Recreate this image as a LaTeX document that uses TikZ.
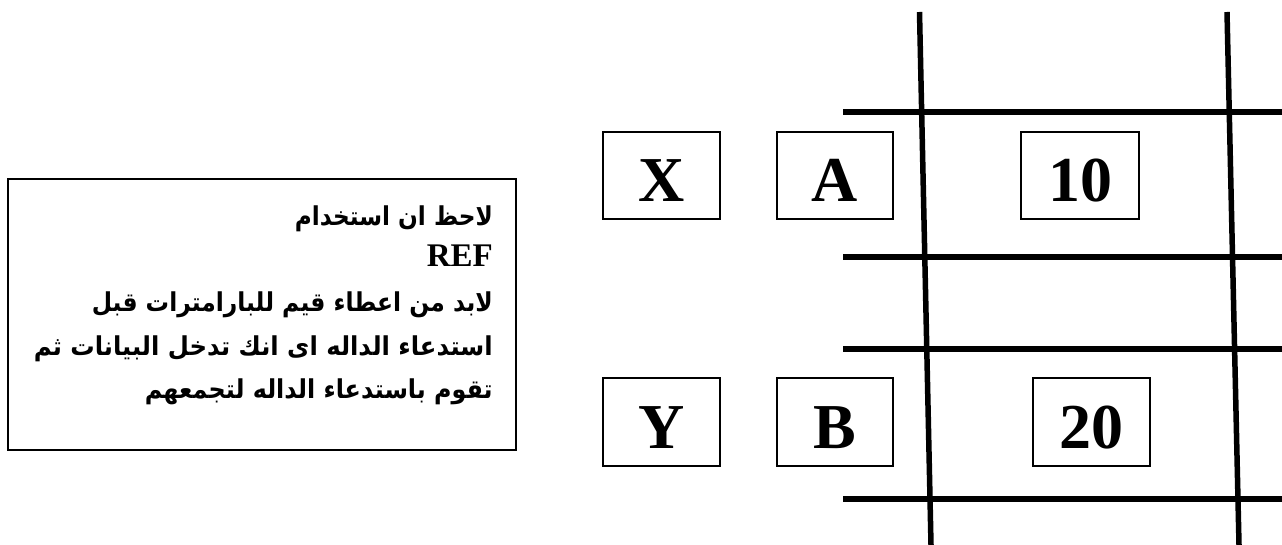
\documentclass[tikz,border=0pt]{standalone}
\usepackage{fontspec}
\usepackage{graphicx}
\setmainfont{Liberation Serif}
\newfontfamily\arabicfont[Script=Arabic]{DejaVu Sans}
\TeXXeTstate=1
\begin{document}
\begin{tikzpicture}[x=1pt,y=-1pt,
  gridline/.style={line width=5.5pt,black},
  cellbox/.style={draw,line width=1.3pt,inner sep=0pt},
  bigtxt/.style={font=\fontsize{64}{64}\selectfont\bfseries,inner sep=0pt,anchor=base},
  artxt/.style={font=\arabicfont\bfseries\fontsize{26}{26}\selectfont,inner sep=0pt,anchor=base east},
  reftxt/.style={font=\fontsize{33}{33}\selectfont\bfseries,inner sep=0pt,anchor=base east}]
\useasboundingbox (0,0) rectangle (1282,545);
% note box
\draw[line width=1.5pt] (8,179) rectangle (516,450);
\node[artxt] (l1) at (493,226) {\resizebox{198pt}{\height}{\beginR لاحظ ان استخدام\endR}};
\node[reftxt] (l2) at (493,267) {REF};
\node[artxt] (l3) at (493,311) {\resizebox{401pt}{\height}{\beginR لابد من اعطاء قيم للبارامترات قبل\endR}};
\node[artxt] (l4) at (493,355) {\resizebox{459pt}{\height}{\beginR استدعاء الداله اى انك تدخل البيانات ثم\endR}};
\node[artxt] (l5) at (493,398) {\resizebox{348pt}{\height}{\beginR تقوم باستدعاء الداله لتجمعهم\endR}};
% grid
\coordinate (v1t) at (919.5,12); \coordinate (v1b) at (931,545);
\coordinate (v2t) at (1227,12); \coordinate (v2b) at (1239,545);
\draw[gridline] (v1t) -- (v1b);
\draw[gridline] (v2t) -- (v2b);
\foreach \yy/\nm in {112/h1,257/h2,349/h3,499/h4}{
  \coordinate (\nm s) at (843,\yy); \coordinate (\nm e) at (1282,\yy);
  \draw[gridline] (\nm s) -- (\nm e);
}
% boxes
\draw[cellbox] (603,132) rectangle (720,219);
\draw[cellbox] (777,132) rectangle (893,219);
\draw[cellbox] (1021,132) rectangle (1139,219);
\draw[cellbox] (603,378) rectangle (720,466);
\draw[cellbox] (777,378) rectangle (893,466);
\draw[cellbox] (1033,378) rectangle (1150,466);
\node[bigtxt] (x) at (661.5,202) {X};
\node[bigtxt] (a) at (835,202) {A};
\node[bigtxt] (n10) at (1080,202) {10};
\node[bigtxt] (y) at (661.5,448) {Y};
\node[bigtxt] (b) at (835,448) {B};
\node[bigtxt] (n20) at (1091.5,448) {20};
\end{tikzpicture}
\end{document}
